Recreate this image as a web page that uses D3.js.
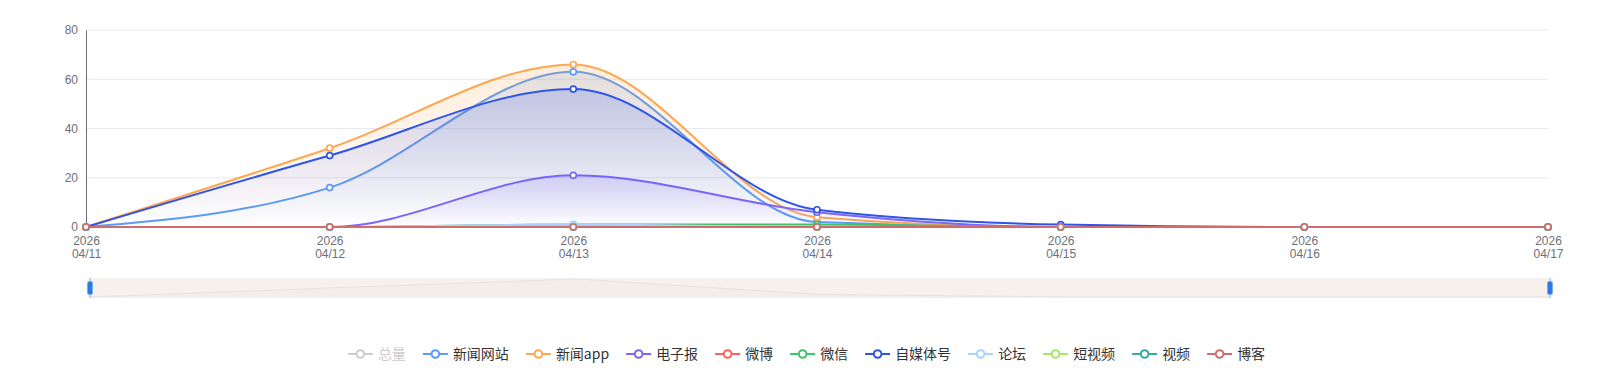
<!DOCTYPE html>
<html><head><meta charset="utf-8">
<script src="https://cdn.jsdelivr.net/npm/d3@7"></script>
<style>
body{margin:0;background:#fff;}
svg{display:block;font-family:"Noto Sans CJK SC","Noto Sans",sans-serif;}
</style>
</head><body>
<svg id="chart" width="1613" height="382"></svg>
<script>
// ---------------- data ----------------
const dates = ["2026/04/11","2026/04/12","2026/04/13","2026/04/14","2026/04/15","2026/04/16","2026/04/17"];
const yTicks = [0, 20, 40, 60, 80];
const seriesNames  = ["总量","新闻网站","新闻app","电子报","微博","微信","自媒体号","论坛","短视频","视频","博客"];
const seriesColors = ["#cccccc","#5a9cf8","#ffa64f","#7c66fa","#ff6060","#3dc46b","#2f54e8","#a6d3ff","#a9e46b","#3aa8a8","#d06c6c"];
const hiddenSeries = ["总量"];
const v_total   = [0, 77, 152, 21, 1, 0, 0];
const v_news    = [0, 16, 63, 2, 0, 0, 0];
const v_app     = [0, 32, 66, 4, 0, 0, 0];
const v_paper   = [0, 0, 21, 6, 0, 0, 0];
const v_weibo   = [0, 0, 0, 0, 0, 0, 0];
const v_wechat  = [0, 0, 1, 1, 0, 0, 0];
const v_media   = [0, 29, 56, 7, 1, 0, 0];
const v_forum   = [0, 0, 1, 0, 0, 0, 0];
const v_short   = [0, 0, 0, 0, 0, 0, 0];
const v_video   = [0, 0, 0, 0, 0, 0, 0];
const v_blog    = [0, 0, 0, 0, 0, 0, 0];
const seriesValues = [v_total, v_news, v_app, v_paper, v_weibo, v_wechat, v_media, v_forum, v_short, v_video, v_blog];

// ---------------- layout ----------------
const svg = d3.select("#chart");
const W = 1613;
const plot = {left: 86, right: 1548, top: 30, bottom: 227};
const x = d3.scalePoint().domain(dates).range([plot.left, plot.right]);
const y = d3.scaleLinear().domain([0, 80]).range([plot.bottom, plot.top]);
const axisColor = "#6e7079";
const axisFont = '"Liberation Sans","Noto Sans",sans-serif';

const series = seriesNames.map((n, i) => ({name: n, color: seriesColors[i], values: seriesValues[i], hidden: hiddenSeries.includes(n)}));

// grid lines
svg.append("g").selectAll("line").data(yTicks.filter(t => t > 0)).join("line")
  .attr("x1", plot.left).attr("x2", plot.right)
  .attr("y1", d => y(d)).attr("y2", d => y(d))
  .attr("stroke", "#e6e9f0").attr("stroke-width", 1);

// y axis
const yAxis = svg.append("g").attr("transform", `translate(${plot.left},0)`)
  .call(d3.axisLeft(y).tickValues(yTicks).tickSize(0).tickPadding(8));
yAxis.select(".domain").attr("stroke", axisColor).attr("stroke-width", 1);
yAxis.selectAll("text").attr("fill", axisColor).attr("font-size", 12)
  .attr("font-family", axisFont);

// x axis
const xAxis = svg.append("g").attr("transform", `translate(0,${plot.bottom})`)
  .call(d3.axisBottom(x).tickSize(0).tickFormat(""));
xAxis.select(".domain").attr("stroke", axisColor).attr("stroke-width", 1);
xAxis.selectAll(".tick").each(function(d) {
  const parts = d.split("/");
  const g = d3.select(this);
  g.append("text").attr("fill", axisColor).attr("font-size", 12).attr("font-family", axisFont)
    .attr("text-anchor", "middle").attr("x", 0).attr("y", 17.5).text(parts[0]);
  g.append("text").attr("fill", axisColor).attr("font-size", 12).attr("font-family", axisFont)
    .attr("text-anchor", "middle").attr("x", 0).attr("y", 30.5).text(parts[1] + "/" + parts[2]);
});

// gradients
const defs = svg.append("defs");
series.forEach((s, i) => {
  const g = defs.append("linearGradient").attr("id", "grad" + i)
    .attr("x1", 0).attr("y1", 0).attr("x2", 0).attr("y2", 1);
  g.append("stop").attr("offset", "0%").attr("stop-color", s.color).attr("stop-opacity", 0.2);
  g.append("stop").attr("offset", "100%").attr("stop-color", s.color).attr("stop-opacity", 0.0);
});

const curve = d3.curveMonotoneX;
const area = d3.area().x((d, i) => x(dates[i])).y0(y(0)).y1(d => y(d)).curve(curve);
const line = d3.line().x((d, i) => x(dates[i])).y(d => y(d)).curve(curve);

const visible = series.map((s, i) => ({...s, idx: i})).filter(s => !s.hidden);
const sg = svg.append("g");
visible.forEach(s => {
  const g = sg.append("g");
  if (d3.max(s.values) > 0) {
    g.append("path").datum(s.values).attr("d", area).attr("fill", `url(#grad${s.idx})`);
  }
  g.append("path").datum(s.values).attr("d", line).attr("fill", "none")
    .attr("stroke", s.color).attr("stroke-width", 2).attr("stroke-linejoin", "round");
});
const symG = svg.append("g");
visible.forEach(s => {
  symG.append("g").selectAll("circle").data(s.values).join("circle")
    .attr("cx", (d, i) => x(dates[i])).attr("cy", d => y(d)).attr("r", 3)
    .attr("fill", "#fff").attr("stroke", s.color).attr("stroke-width", 1.7);
});

// ---------------- data zoom slider ----------------
const sl = {left: 90, right: 1550, top: 278, bottom: 298};
const sx = d3.scalePoint().domain(dates).range([sl.left, sl.right]);
const sy = d3.scaleLinear().domain([0, d3.max(v_total)]).range([sl.bottom - 1, sl.top + 1]);
svg.append("rect").attr("x", sl.left).attr("y", sl.top).attr("width", sl.right - sl.left)
  .attr("height", sl.bottom - sl.top).attr("fill", "#f6f1ec");
svg.append("path").datum(v_total)
  .attr("d", d3.area().x((d, i) => sx(dates[i])).y0(sl.bottom).y1(d => sy(d)))
  .attr("fill", "#efe9e4").attr("opacity", 0.3);
svg.append("path").datum(v_total)
  .attr("d", d3.line().x((d, i) => sx(dates[i])).y(d => sy(d)))
  .attr("fill", "none").attr("stroke", "#e6e2de").attr("stroke-width", 1);
[sl.left, sl.right].forEach(hx => {
  svg.append("line").attr("x1", hx).attr("x2", hx).attr("y1", sl.top).attr("y2", sl.bottom)
    .attr("stroke", "#8db6ef").attr("stroke-width", 1.2);
  svg.append("rect").attr("x", hx - 2.5).attr("y", 281.5).attr("width", 5).attr("height", 13)
    .attr("rx", 1.5).attr("fill", "#2a7be6").attr("stroke", "#7aa9ec").attr("stroke-width", 0.8);
});

// ---------------- legend ----------------
const legG = svg.append("g");
const legendY = 354;
const iconW = 25, textPad = 5, itemGap = 17;
const items = series.map(s => {
  const g = legG.append("g");
  const col = s.hidden ? "#cccccc" : s.color;
  g.append("line").attr("x1", 0).attr("x2", iconW).attr("y1", 0).attr("y2", 0)
    .attr("stroke", col).attr("stroke-width", 2);
  g.append("circle").attr("cx", iconW / 2).attr("cy", 0).attr("r", 3.8)
    .attr("fill", "#fff").attr("stroke", col).attr("stroke-width", 2);
  const t = g.append("text").attr("x", iconW + textPad).attr("y", 0).attr("dy", "0.35em")
    .attr("font-size", 14).attr("fill", s.hidden ? "#cccccc" : "#333").text(s.name);
  const w = iconW + textPad + t.node().getComputedTextLength();
  return {g, w};
});
const totalW = d3.sum(items, d => d.w) + itemGap * (items.length - 1);
let cx = W / 2 - totalW / 2;
items.forEach(it => {
  it.g.attr("transform", `translate(${cx},${legendY})`);
  cx += it.w + itemGap;
});
</script>
</body></html>
